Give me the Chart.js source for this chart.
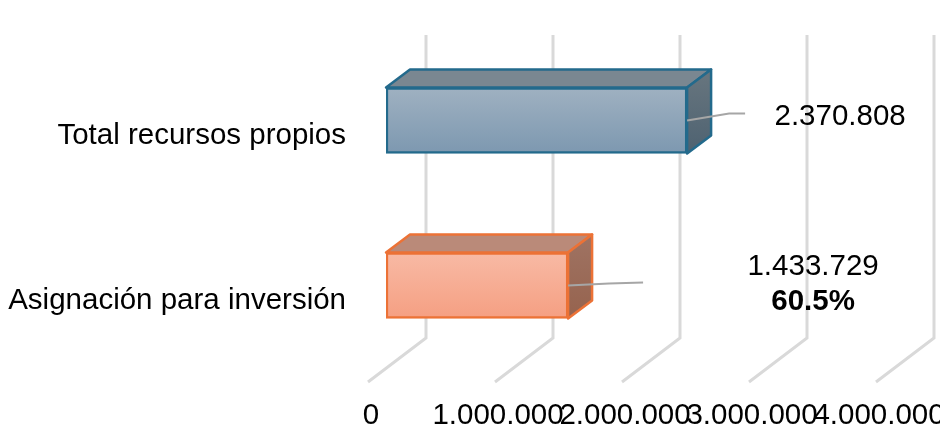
<!DOCTYPE html>
<html>
<head>
<meta charset="utf-8">
<title>Recursos propios</title>
<script src="https://cdn.jsdelivr.net/npm/chart.js@4"></script>
<style>
    html, body { margin: 0; padding: 0; background: #fff; }
    #wrap { position: relative; width: 940px; height: 431px; }
</style>
</head>
<body>
<div id="wrap"><canvas id="chart"></canvas></div>
<script>
// ── Data ──
const categories = ['Total recursos propios', 'Asignación para inversión'];
const values = [2370808, 1433729];
const percents = ['', '60.5%'];
const xTicks = [0, 1000000, 2000000, 3000000, 4000000];

// ── Styles per bar ──
const frontColors = [['#9fb1c1', '#7d98b0'], ['#f8baa5', '#f59f82']];
const topColors = ['#7a8791', '#ba8a79'];
const sideColors = [['#68767f', '#4e6271'], ['#9f7363', '#96634e']];
const edgeColors = ['#236a8c', '#ec7236'];

// depth of the fake 3D
const BAR_DX = 24, BAR_DY = 18;
const GRID_BACK_DX = 40, GRID_FRONT_DX = -18, GRID_FLOOR_Y = -30, GRID_FRONT_Y = 14;
const FONT = '"Liberation Sans", Arial, sans-serif';

const dotted = n => String(n).replace(/\B(?=(\d{3})+$)/g, '.');

// tick labels must not push the plot area in
function noScalePadding(axis) {
    axis.paddingLeft = axis.paddingRight = axis.paddingTop = axis.paddingBottom = 0;
}

// ── Walls and floor lines, behind the bars ──
const gridPlugin = {
    id: 'grid3d',
    beforeDatasetsDraw(chart) {
        const { ctx, chartArea, scales } = chart;
        ctx.save();
        ctx.strokeStyle = '#d9d9d9';
        ctx.lineWidth = 3;
        xTicks.forEach(t => {
            const px = scales.x.getPixelForValue(t);
            ctx.beginPath();
            ctx.moveTo(px + GRID_BACK_DX, chartArea.top - 3);
            ctx.lineTo(px + GRID_BACK_DX, chartArea.bottom + GRID_FLOOR_Y);
            ctx.lineTo(px + GRID_FRONT_DX, chartArea.bottom + GRID_FRONT_Y);
            ctx.stroke();
        });
        ctx.restore();
    }
};

function face(ctx, pts, fill, stroke) {
    ctx.beginPath();
    pts.forEach((p, i) => i ? ctx.lineTo(p[0], p[1]) : ctx.moveTo(p[0], p[1]));
    ctx.closePath();
    ctx.fillStyle = fill;
    ctx.fill();
    ctx.strokeStyle = stroke;
    ctx.lineWidth = 2.5;
    ctx.lineJoin = 'round';
    ctx.stroke();
}

// ── Top and side faces of each bar, built from the bar element ──
const bar3dPlugin = {
    id: 'bar3d',
    afterDatasetsDraw(chart) {
        const { ctx } = chart;
        ctx.save();
        chart.getDatasetMeta(0).data.forEach((bar, i) => {
            const top = bar.y - bar.height / 2, bottom = bar.y + bar.height / 2;
            face(ctx, [[bar.base, top], [bar.base + BAR_DX, top - BAR_DY], [bar.x + BAR_DX, top - BAR_DY], [bar.x, top]],
                topColors[i], edgeColors[i]);
            const g = ctx.createLinearGradient(0, top - BAR_DY, 0, bottom);
            g.addColorStop(0, sideColors[i][0]);
            g.addColorStop(1, sideColors[i][1]);
            face(ctx, [[bar.x, top], [bar.x + BAR_DX, top - BAR_DY], [bar.x + BAR_DX, bottom - BAR_DY], [bar.x, bottom]],
                g, edgeColors[i]);
        });
        ctx.restore();
    }
};

// ── Value labels with leader lines ──
const leaderTargets = [[42, -7, 58, -7], [41, -2, 75, -3]];
const labelOffsets = [[153, -4], [245, -19]];
const labelPlugin = {
    id: 'valueLabels',
    afterDraw(chart) {
        const { ctx } = chart;
        ctx.save();
        chart.getDatasetMeta(0).data.forEach((bar, i) => {
            const l = leaderTargets[i];
            ctx.strokeStyle = '#a6a6a6';
            ctx.lineWidth = 2;
            ctx.beginPath();
            ctx.moveTo(bar.x, bar.y);
            ctx.lineTo(bar.x + l[0], bar.y + l[1]);
            ctx.lineTo(bar.x + l[2], bar.y + l[3]);
            ctx.stroke();

            const lx = bar.x + labelOffsets[i][0], ly = bar.y + labelOffsets[i][1];
            ctx.fillStyle = '#000';
            ctx.textAlign = 'center';
            ctx.textBaseline = 'middle';
            ctx.font = `29.5px ${FONT}`;
            ctx.fillText(dotted(values[i]), lx, ly);
            if (percents[i]) {
                ctx.font = `bold 29.5px ${FONT}`;
                ctx.fillText(percents[i], lx, ly + 35);
            }
        });
        ctx.restore();
    }
};

new Chart(document.getElementById('chart'), {
    type: 'bar',
    data: {
        labels: categories,
        datasets: [{
            data: values,
            barThickness: 66,
            borderWidth: 2.5,
            borderSkipped: false,
            borderColor: ctx => edgeColors[ctx.dataIndex],
            backgroundColor: ctx => {
                // scale has no pixels yet on the first pass before layout
                const cy = ctx.chart.scales.y.getPixelForValue(ctx.dataIndex);
                if (!Number.isFinite(cy)) return frontColors[ctx.dataIndex][1];
                const g = ctx.chart.ctx.createLinearGradient(0, cy - 33, 0, cy + 33);
                g.addColorStop(0, frontColors[ctx.dataIndex][0]);
                g.addColorStop(1, frontColors[ctx.dataIndex][1]);
                return g;
            }
        }]
    },
    options: {
        indexAxis: 'y',
        responsive: true,
        maintainAspectRatio: false,
        animation: false,
        layout: { autoPadding: false, padding: { top: 38, right: 46 } },
        plugins: { legend: { display: false }, title: { display: false }, tooltip: { enabled: false } },
        scales: {
            x: {
                min: 0,
                max: 4000000,
                afterBuildTicks: axis => { axis.ticks = xTicks.map(value => ({ value })); },
                afterFit: axis => { axis.height = 63; noScalePadding(axis); },
                grid: { display: false },
                border: { display: false },
                ticks: {
                    autoSkip: false,
                    maxRotation: 0,
                    minRotation: 0,
                    labelOffset: -15,
                    padding: 22,
                    color: '#000',
                    font: { family: FONT, size: 29.5 },
                    callback: v => dotted(v)
                }
            },
            y: {
                afterFit: axis => { axis.width = 386; noScalePadding(axis); },
                grid: { display: false },
                border: { display: false },
                ticks: {
                    padding: 32,
                    labelOffset: 15.5,
                    color: '#000',
                    font: { family: FONT, size: 29.5 }
                }
            }
        }
    },
    plugins: [gridPlugin, bar3dPlugin, labelPlugin]
});
</script>
</body>
</html>
